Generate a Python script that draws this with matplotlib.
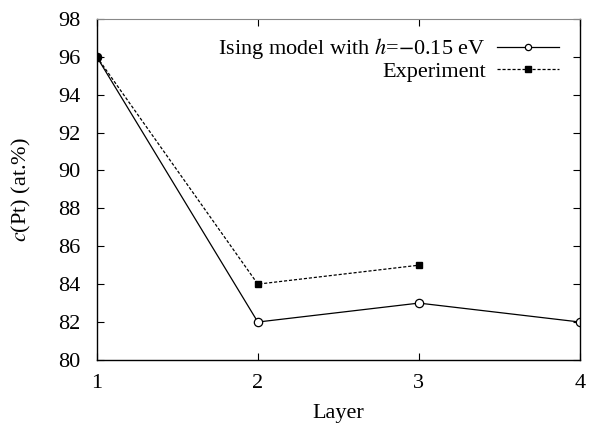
import matplotlib
matplotlib.use("Agg")
import matplotlib.pyplot as plt

# Pt concentration per surface layer
layers = [1, 2, 3, 4]
ising_pt = [96, 82, 83, 82]
exp_layers = [1, 2, 3]
exp_pt = [96, 84, 85]

x_ticks = [1, 2, 3, 4]
y_ticks = list(range(80, 99, 2))

plt.rcParams['font.family'] = ['Liberation Serif', 'DejaVu Serif']
plt.rcParams['mathtext.fontset'] = 'stix'

fig = plt.figure(figsize=(5.9, 4.29), dpi=100)
ax = fig.add_axes([0.164, 0.161, 0.819, 0.795])

ax.plot(layers, ising_pt, color='black', lw=0.9, marker='o', ms=6,
        mfc='white', mec='black', mew=0.9,
        label=r'Ising model with $h$=$-$0.15 eV')
ax.plot(exp_layers, exp_pt, color='black', lw=0.9, ls=(0, (2.5, 1.5)),
        marker='s', ms=5, mfc='black', mec='black', label='Experiment')

ax.set_xlim(1, 4)
ax.set_ylim(80, 98)
ax.set_xticks(x_ticks)
ax.set_yticks(y_ticks)
ax.tick_params(direction='in', length=5, width=0.8, labelsize=16,
               top=True, right=True)
ax.tick_params(axis='y', pad=12)
ax.tick_params(axis='x', pad=10)
for side in ['left', 'bottom', 'right']:
    ax.spines[side].set_linewidth(1.0)
ax.spines['top'].set_color('#888888')

ax.set_xlabel('Layer', fontsize=16, labelpad=8)
ax.set_ylabel(r'$c$(Pt) (at.%)', fontsize=16, labelpad=18)

leg = ax.legend(loc='upper right', bbox_to_anchor=(0.975, 0.975),
                markerfirst=False, frameon=False, fontsize=16,
                handlelength=2.8, handletextpad=0.5, labelspacing=0.0,
                borderaxespad=0, markerscale=0.75)

fig.savefig('out.png', dpi=100)
